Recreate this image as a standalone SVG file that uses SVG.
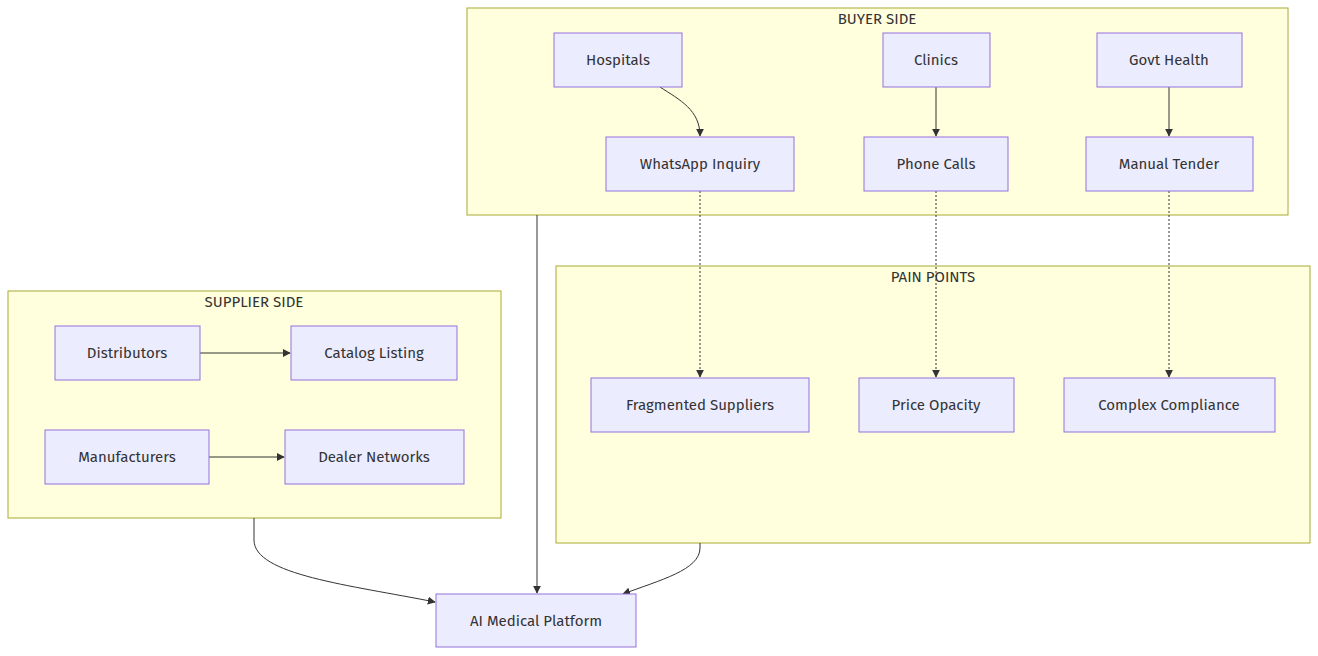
<svg xmlns="http://www.w3.org/2000/svg" width="1318" height="656" viewBox="0 0 1318 656">
<defs>
<marker id="a" viewBox="0 0 10 10" refX="9" refY="5" markerWidth="8" markerHeight="8" orient="auto"><path d="M0,0L10,5L0,10z" fill="#333"/></marker>
<style>
.c{fill:#ffffde;stroke:#aaaa33;stroke-width:1}
.n{fill:#ececff;stroke:#9370db;stroke-width:1}
text{font-family:"Fira Sans","Open Sans","Noto Sans",sans-serif;font-size:15px;fill:#333;text-anchor:middle;dominant-baseline:central}
.e{fill:none;stroke:#333;stroke-width:1;marker-end:url(#a)}
.d{stroke-dasharray:2 2}
</style>
</defs>
<g id="clusters">
<rect class="c" x="467" y="8" width="821" height="207"/><text x="877" y="19">BUYER SIDE</text>
<rect class="c" x="556" y="266" width="754" height="277"/><text x="933" y="277">PAIN POINTS</text>
<rect class="c" x="8" y="291" width="493" height="227"/><text x="254" y="302">SUPPLIER SIDE</text>
</g>
<g id="connectors">
<path class="e" d="M660,87C680,100 700,110 700,136"/>
<path class="e" d="M936,87V136"/>
<path class="e" d="M1169,87V136"/>
<path class="e d" d="M700,191V377"/>
<path class="e d" d="M936,191V377"/>
<path class="e d" d="M1169,191V377"/>
<path class="e" d="M200,353H290"/>
<path class="e" d="M209,457H284"/>
<path class="e" d="M537,215V593"/>
<path class="e" d="M254,518V540C254,575 350,585 435,602"/>
<path class="e" d="M700,543V548C700,570 660,580 623,594"/>
</g>
<g id="n1"><rect class="n" x="554" y="33" width="128" height="54"/><text x="618" y="60">Hospitals</text></g>
<g id="n2"><rect class="n" x="883" y="33" width="107" height="54"/><text x="936" y="60">Clinics</text></g>
<g id="n3"><rect class="n" x="1097" y="33" width="145" height="54"/><text x="1169" y="60">Govt Health</text></g>
<g id="n4"><rect class="n" x="606" y="137" width="188" height="54"/><text x="700" y="164">WhatsApp Inquiry</text></g>
<g id="n5"><rect class="n" x="864" y="137" width="144" height="54"/><text x="936" y="164">Phone Calls</text></g>
<g id="n6"><rect class="n" x="1086" y="137" width="167" height="54"/><text x="1169" y="164">Manual Tender</text></g>
<g id="n7"><rect class="n" x="591" y="378" width="218" height="54"/><text x="700" y="405">Fragmented Suppliers</text></g>
<g id="n8"><rect class="n" x="859" y="378" width="155" height="54"/><text x="936" y="405">Price Opacity</text></g>
<g id="n9"><rect class="n" x="1064" y="378" width="211" height="54"/><text x="1169" y="405">Complex Compliance</text></g>
<g id="n10"><rect class="n" x="55" y="326" width="145" height="54"/><text x="127" y="353">Distributors</text></g>
<g id="n11"><rect class="n" x="291" y="326" width="166" height="54"/><text x="374" y="353">Catalog Listing</text></g>
<g id="n12"><rect class="n" x="45" y="430" width="164" height="54"/><text x="127" y="457">Manufacturers</text></g>
<g id="n13"><rect class="n" x="285" y="430" width="179" height="54"/><text x="374" y="457">Dealer Networks</text></g>
<g id="n14"><rect class="n" x="436" y="594" width="200" height="53"/><text x="536" y="621">AI Medical Platform</text></g>
</svg>
